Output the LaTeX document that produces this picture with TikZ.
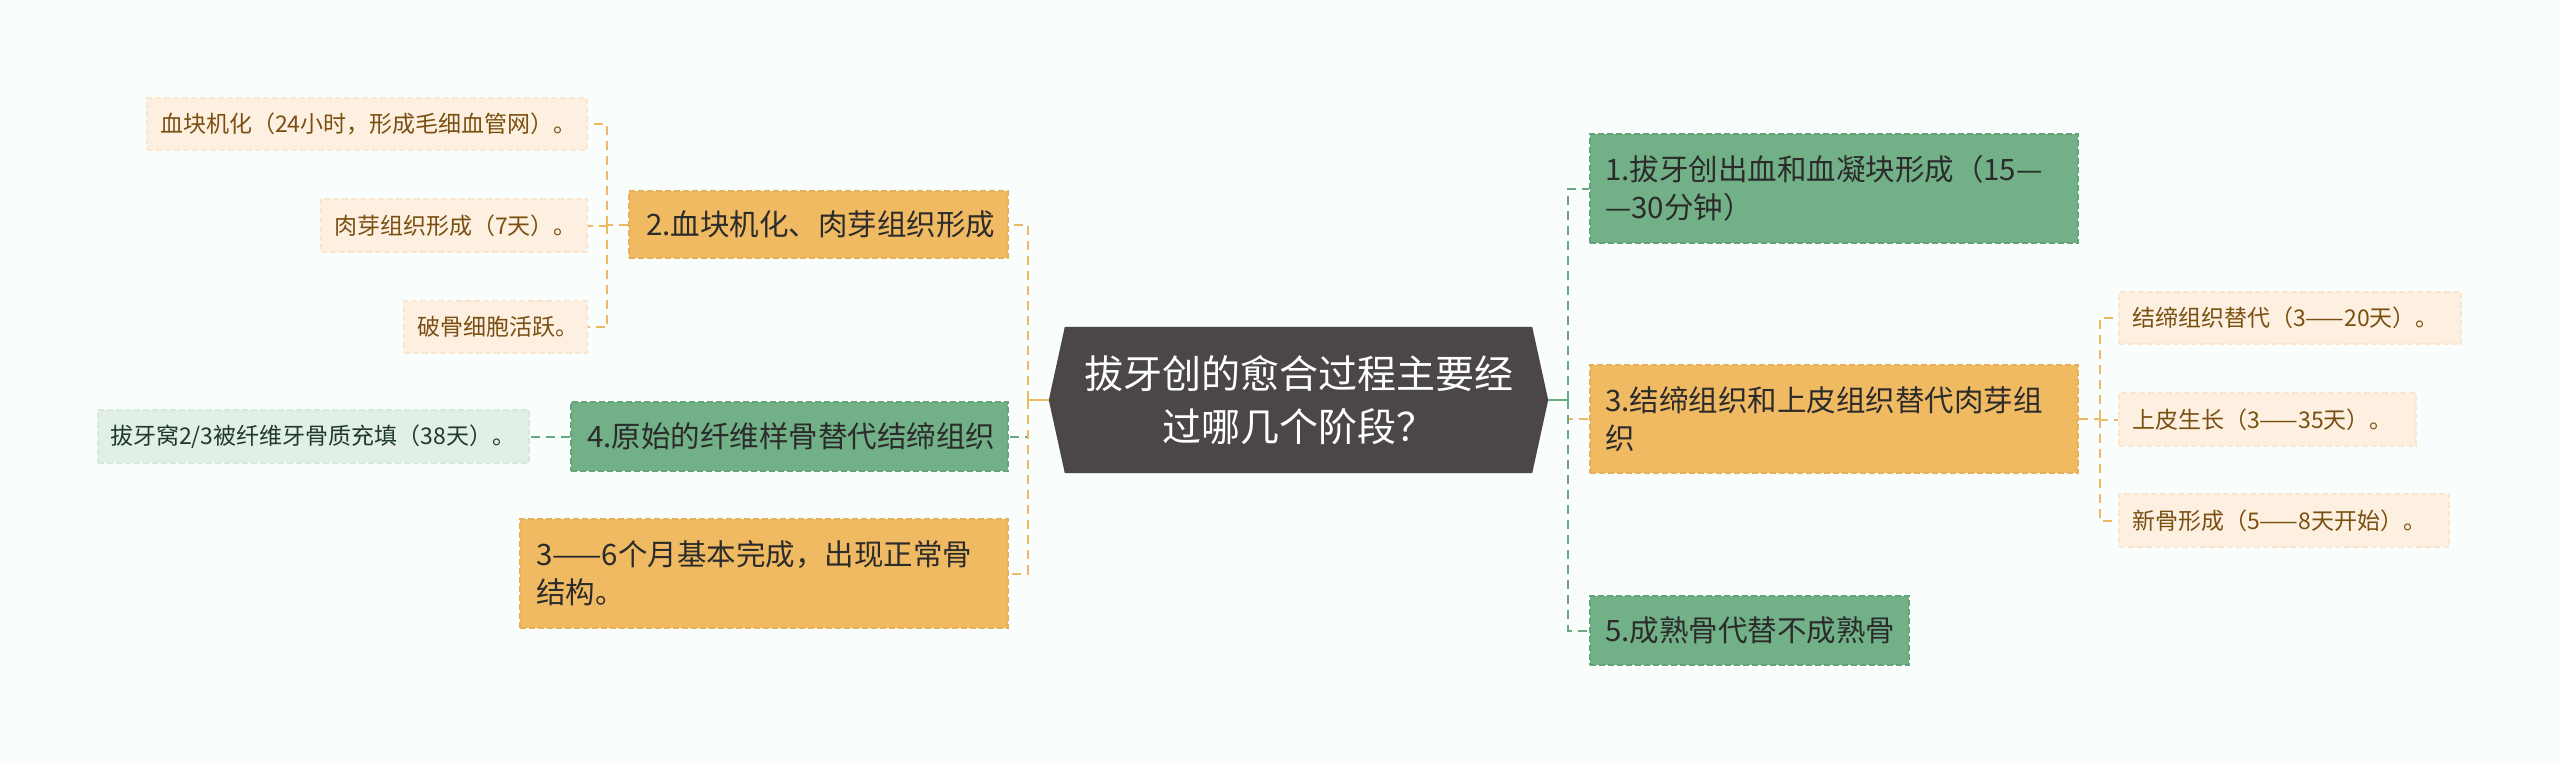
\documentclass[tikz,border=0pt]{standalone}
\usepackage{fontspec}
\setmainfont{Noto Sans CJK SC}
\usetikzlibrary{backgrounds}
\definecolor{bg}{HTML}{F9FDFC}
\definecolor{hexfill}{HTML}{4B4647}
\definecolor{orfill}{HTML}{F0BA62}
\definecolor{ordraw}{HTML}{E6B058}
\definecolor{grfill}{HTML}{72B087}
\definecolor{grdraw}{HTML}{66A37B}
\definecolor{lofill}{HTML}{FDF0E0}
\definecolor{lodraw}{HTML}{FAE6CE}
\definecolor{lotext}{HTML}{7A4F12}
\definecolor{lgfill}{HTML}{E2EFE6}
\definecolor{lgdraw}{HTML}{D6E8DC}
\definecolor{lgtext}{HTML}{1F3A28}
\definecolor{maintext}{HTML}{2B2B2B}
\definecolor{orline}{HTML}{EDB864}
\definecolor{grline}{HTML}{6AA97F}
\tikzset{
  boxbase/.style={anchor=center, align=left, inner ysep=0pt, line width=1.5pt, dash pattern=on 6pt off 3pt},
  mainor/.style={boxbase, fill=orfill, draw=ordraw, text=maintext, font=\fontsize{29.5}{38}\selectfont},
  maingr/.style={boxbase, fill=grfill, draw=grdraw, text=maintext, font=\fontsize{29.5}{38}\selectfont},
  leafor/.style={boxbase, fill=lofill, draw=lodraw, text=lotext, font=\fontsize{23}{28}\selectfont},
  leafgr/.style={boxbase, fill=lgfill, draw=lgdraw, text=lgtext, font=\fontsize{23}{28}\selectfont},
  ordash/.style={draw=orline, line width=2pt, dash pattern=on 9pt off 6pt},
  grdash/.style={draw=grline, line width=2pt, dash pattern=on 9pt off 6pt},
  orsolid/.style={draw=orline, line width=2.5pt},
  grsolid/.style={draw=grline, line width=2.5pt},
}
\begin{document}
\begin{tikzpicture}[x=1pt,y=-1pt]
\useasboundingbox (0,0) rectangle (2560,763);
% central node
\node (c) [minimum width=499pt, minimum height=146pt, inner sep=0pt, align=center, text=white,
  font=\fontsize{39}{53}\selectfont] at (1298.5,400) {拔牙创的愈合过程主要经\\过哪几个阶段？};
\begin{scope}[on background layer]
  \fill[bg] (0,0) rectangle (2560,763);
  \fill[hexfill] (c.west) -- ([xshift=16pt]c.north west) -- ([xshift=-16pt]c.north east) -- (c.east)
    -- ([xshift=-16pt]c.south east) -- ([xshift=16pt]c.south west) -- cycle;
\end{scope}
% left main nodes
\node (n2) [mainor, text width=345pt, inner xsep=17pt, minimum height=67pt] at (818.5,224.5) {2.血块机化、肉芽组织形成};
\node (n4) [maingr, text width=405pt, inner xsep=16pt, minimum height=69pt] at (789.5,436.5) {4.原始的纤维样骨替代结缔组织};
\node (n36) [mainor, text width=456pt, inner xsep=16pt, minimum height=109pt] at (764,573.5) {3——6个月基本完成，出现正常骨\\结构。};
% left leaves
\node (la) [leafor, text width=414pt, inner xsep=13pt, minimum height=52pt] at (367,124) {血块机化（24小时，形成毛细血管网）。};
\node (lb) [leafor, text width=240pt, inner xsep=13pt, minimum height=53pt] at (454,225.5) {肉芽组织形成（7天）。};
\node (lc) [leafor, text width=157pt, inner xsep=13pt, minimum height=52pt] at (495.5,327) {破骨细胞活跃。};
\node (ld) [leafgr, text width=407pt, inner xsep=12pt, minimum height=53pt] at (313.5,436.5) {拔牙窝2/3被纤维牙骨质充填（38天）。};
% right main nodes
\node (n1) [maingr, text width=458pt, inner xsep=15pt, minimum height=109pt] at (1834,188.5) {1.拔牙创出血和血凝块形成（15—\\—30分钟）};
\node (n3) [mainor, text width=458pt, inner xsep=15pt, minimum height=108pt] at (1834,419) {3.结缔组织和上皮组织替代肉芽组\\织};
\node (n5) [maingr, text width=289pt, inner xsep=15pt, minimum height=69pt] at (1749.5,630.5) {5.成熟骨代替不成熟骨};
% right leaves
\node (le) [leafor, text width=316pt, inner xsep=13pt, minimum height=52pt] at (2290,318) {结缔组织替代（3——20天）。};
\node (lf) [leafor, text width=271pt, inner xsep=13pt, minimum height=53pt] at (2267.5,419.5) {上皮生长（3——35天）。};
\node (lg) [leafor, text width=304pt, inner xsep=13pt, minimum height=53pt] at (2284,520.5) {新骨形成（5——8天开始）。};
% connectors left
\draw[orsolid] (c.west) -- ++(-21,0) coordinate (lbus);
\draw[grdash] (lbus) |- (n4.east);
\draw[ordash] (lbus) |- (n2.east);
\draw[ordash] (lbus) |- (n36.east);
\draw[ordash] (n2.west) -- ++(-21,0) coordinate (b2);
\draw[ordash] (b2) |- (la.east);
\draw[ordash] (b2) |- (lb.east);
\draw[ordash] (b2) |- (lc.east);
\draw[grdash] (n4.west) -- (ld.east);
% connectors right
\draw[grsolid] (c.east) -- ++(20,0) coordinate (rbus);
\draw[ordash] (rbus) |- (n3.west);
\draw[grdash] (rbus) |- (n1.west);
\draw[grdash] (rbus) |- (n5.west);
\draw[ordash] (n3.east) -- ++(21,0) coordinate (b3);
\draw[ordash] (b3) |- (le.west);
\draw[ordash] (b3) |- (lf.west);
\draw[ordash] (b3) |- (lg.west);
\end{tikzpicture}
\end{document}
